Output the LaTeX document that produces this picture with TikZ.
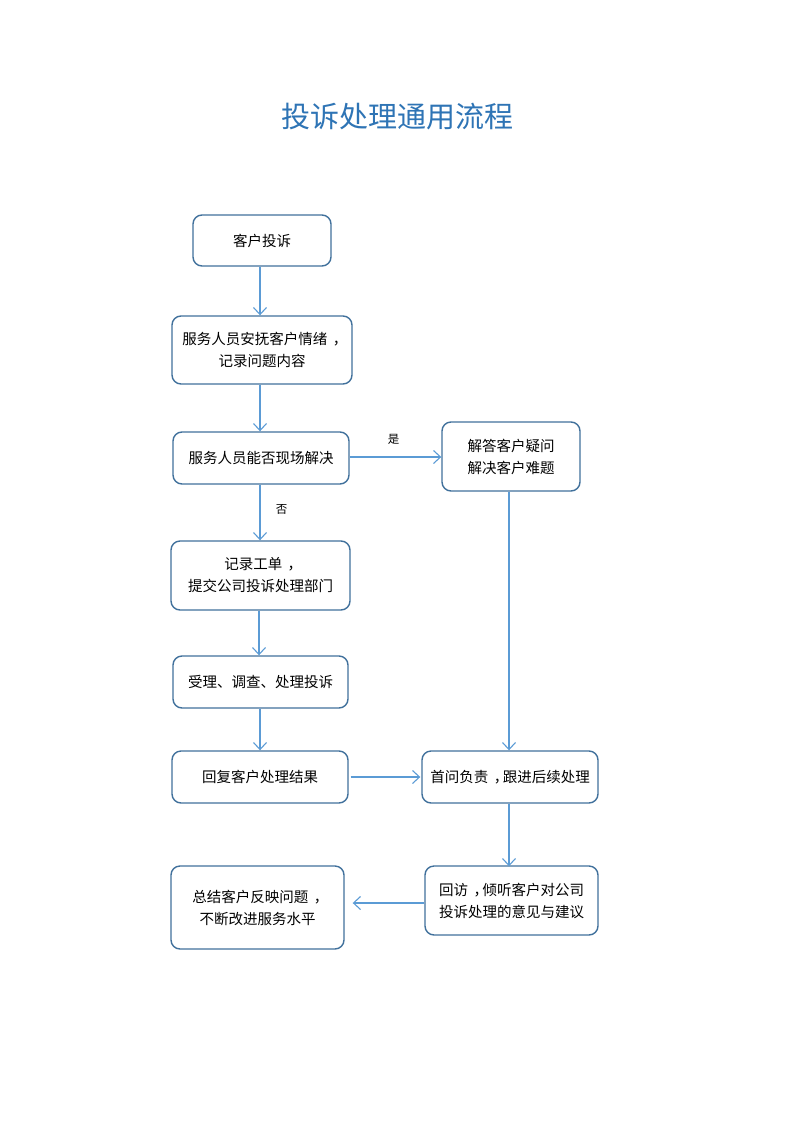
\documentclass[tikz,border=0pt]{standalone}
\usepackage{fontspec}
\setmainfont{Noto Sans CJK SC}
\newfontfamily\cjk{Noto Sans CJK SC}
\newcommand{\zc}{\makebox[1em][l]{\hspace{0.38em}\makebox[0pt][l]{，}}}
\usetikzlibrary{arrows.meta}
\definecolor{boxline}{HTML}{41719C}
\definecolor{arrline}{HTML}{5B9BD5}
\definecolor{titlec}{HTML}{2E74B5}
\begin{document}
\begin{tikzpicture}[x=1pt,y=-1pt,
  box/.style={draw=boxline,line width=1.4pt,rounded corners=9pt,align=center,
    font=\cjk\fontsize{14.5}{22}\selectfont,inner sep=0pt},
  conn/.style={draw=arrline,line width=1.2pt,-{Straight Barb[length=7pt,width=13pt,line width=1.1pt]}},
  lbl/.style={font=\cjk\fontsize{11.5}{13}\selectfont}]
\useasboundingbox[fill=white] (0,0) rectangle (793,1122);
\node[font=\cjk\fontsize{29}{32}\selectfont,text=titlec] (title) at (397,117) {投诉处理通用流程};
\node[box,minimum width=138pt,minimum height=51pt] (n1) at (262,240.5) {客户投诉};
\node[box,minimum width=180pt,minimum height=68pt] (n2) at (262,350) {服务人员安抚客户情绪\zc\\记录问题内容};
\node[box,minimum width=176pt,minimum height=52pt] (n3) at (261,458) {服务人员能否现场解决};
\node[box,minimum width=138pt,minimum height=69pt] (n4) at (511,456.5) {解答客户疑问\\解决客户难题};
\node[box,minimum width=179pt,minimum height=69pt] (n5) at (260.5,575.5) {记录工单\zc\\提交公司投诉处理部门};
\node[box,minimum width=175pt,minimum height=52pt] (n6) at (260.5,682) {受理、调查、处理投诉};
\node[box,minimum width=176pt,minimum height=52pt] (n7) at (260,777) {回复客户处理结果};
\node[box,minimum width=176pt,minimum height=52pt] (n8) at (510,777) {首问负责\zc 跟进后续处理};
\node[box,minimum width=173pt,minimum height=69pt] (n9) at (511.5,900.5) {回访\zc 倾听客户对公司\\投诉处理的意见与建议};
\node[box,minimum width=173pt,minimum height=83pt] (n10) at (257.5,907.5) {总结客户反映问题\zc\\不断改进服务水平};
\coordinate (a1) at (260,0);
\draw[conn] (n1.south -| a1) -- (n2.north -| a1);
\draw[conn] (n2.south -| a1) -- (n3.north -| a1);
\draw[conn] (n3.south -| a1) -- node[lbl,right=12pt,pos=0.45]{否} (n5.north -| a1);
\coordinate (a2) at (259,0);
\draw[conn] (n5.south -| a2) -- (n6.north -| a2);
\draw[conn] (n6.south -| a1) -- (n7.north -| a1);
\coordinate (h1) at (0,457);
\draw[conn] (n3.east |- h1) -- node[lbl,above=9pt,pos=0.48]{是} (n4.west |- h1);
\coordinate (a3) at (509,0);
\draw[conn] (n4.south -| a3) -- (n8.north -| a3);
\draw[conn] (n8.south -| a3) -- ([yshift=-1pt]n9.north -| a3);
\draw[conn] ([xshift=2pt]n7.east) -- ([xshift=-1pt]n8.west);
\coordinate (h2) at (0,903);
\draw[conn] (n9.west |- h2) -- ([xshift=8pt]n10.east |- h2);
\end{tikzpicture}
\end{document}
